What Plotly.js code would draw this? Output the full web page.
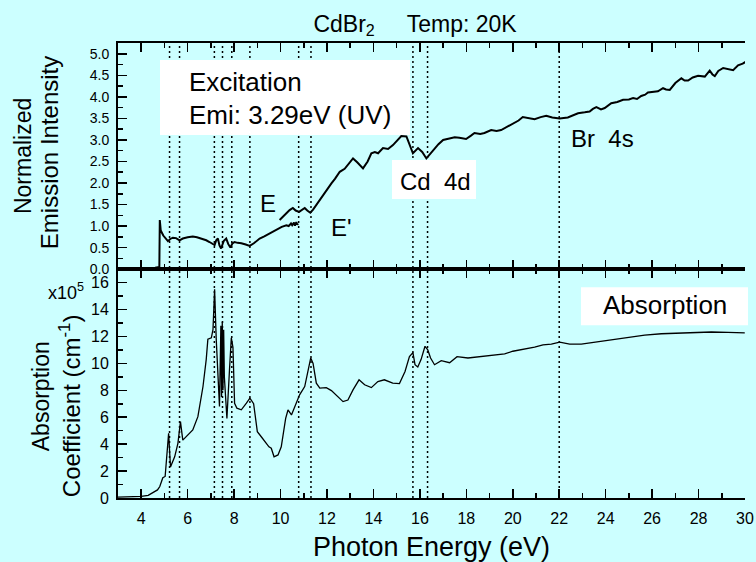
<!DOCTYPE html>
<html>
<head>
<meta charset="utf-8">
<script src="https://cdn.plot.ly/plotly-3.0.1.min.js"></script>
<style>html,body{margin:0;padding:0;background:#ccffff;}</style>
</head>
<body>
<div id="chart" style="width:756px;height:562px;"></div>
<script>
// Emission excitation spectrum (Emi: 3.29 eV), low-energy segment
const emisLowE = [3.9,4.3,4.6,4.78,4.8,4.84,4.95,5.15,5.25,5.36,5.5,5.65,5.79,6.0,6.22,6.4,6.59,6.8,6.94,7.05,7.16,7.23,7.3,7.37,7.44,7.55,7.66,7.75,7.84,7.93,8.02,8.15,8.31,8.5,8.67,8.85,9.1,9.3,9.53,9.7,9.89,10.05,10.25,10.35,10.45,10.5,10.58,10.62,10.68,10.72,10.75];
const emisLowI = [0.02,0.02,0.03,0.05,1.14,0.9,0.78,0.65,0.7,0.73,0.72,0.67,0.71,0.74,0.76,0.74,0.71,0.67,0.63,0.6,0.56,0.67,0.71,0.55,0.48,0.65,0.71,0.58,0.5,0.6,0.63,0.61,0.6,0.57,0.54,0.6,0.71,0.76,0.83,0.88,0.95,0.98,1.02,1.0,1.06,1.02,1.08,1.01,1.09,1.03,1.06];
// Emission excitation spectrum, high-energy segment
const emisHighE = [9.96,10.1,10.25,10.39,10.53,10.65,10.8,10.92,11.04,11.15,11.28,11.4,11.54,11.69,11.83,12.0,12.19,12.35,12.55,12.76,12.95,13.12,13.3,13.55,13.75,13.91,14.06,14.2,14.41,14.63,14.84,15.0,15.2,15.42,15.55,15.7,15.92,16.1,16.28,16.57,16.8,17.0,17.29,17.5,17.7,17.99,18.2,18.35,18.6,18.78,19.07,19.3,19.5,19.75,20.0,20.25,20.43,20.7,20.94,21.2,21.44,21.7,22.02,22.37,22.6,22.81,23.1,23.31,23.45,23.6,23.8,23.96,24.24,24.5,24.75,25.0,25.18,25.35,25.53,25.7,25.82,26.05,26.25,26.47,26.6,26.76,27.0,27.26,27.4,27.55,27.75,27.98,28.15,28.27,28.48,28.6,28.7,28.85,29.06,29.25,29.49,29.7,29.9,30.05];
const emisHighI = [1.14,1.22,1.29,1.37,1.42,1.36,1.33,1.38,1.42,1.36,1.31,1.38,1.49,1.62,1.72,1.85,1.99,2.1,2.26,2.33,2.45,2.57,2.48,2.34,2.5,2.69,2.72,2.69,2.81,2.79,2.88,2.98,3.09,3.08,2.9,2.69,2.81,2.72,2.57,2.76,2.9,3.0,3.03,3.06,3.05,3.02,3.1,3.16,3.14,3.16,3.23,3.21,3.23,3.3,3.39,3.45,3.53,3.5,3.48,3.53,3.56,3.52,3.5,3.52,3.58,3.62,3.64,3.66,3.72,3.76,3.71,3.74,3.85,3.88,3.93,3.94,3.97,3.95,4.02,4.05,4.1,4.12,4.13,4.2,4.17,4.16,4.32,4.43,4.38,4.38,4.45,4.49,4.48,4.47,4.61,4.52,4.48,4.6,4.67,4.64,4.62,4.73,4.77,4.82];
// Absorption coefficient (x10^5 cm^-1)
const absE = [3.0,3.5,4.0,4.3,4.5,4.7,4.8,4.93,5.03,5.1,5.18,5.26,5.44,5.58,5.69,5.79,6.01,6.22,6.44,6.66,6.8,6.87,7.02,7.09,7.16,7.23,7.37,7.43,7.46,7.49,7.52,7.55,7.58,7.69,7.8,7.88,7.95,8.02,8.12,8.31,8.53,8.68,8.84,9.0,9.17,9.39,9.5,9.6,9.72,9.89,10.03,10.22,10.32,10.47,10.64,10.82,11.04,11.18,11.3,11.4,11.54,11.69,11.97,12.19,12.4,12.69,12.9,13.12,13.38,13.62,13.91,14.19,14.47,14.83,15.12,15.36,15.55,15.7,15.79,15.91,16.05,16.22,16.34,16.46,16.63,16.92,17.28,17.6,18.07,18.93,19.65,20.0,20.51,20.94,21.3,21.66,22.02,22.45,22.95,23.53,24.24,24.96,25.68,26.4,27.12,27.84,28.55,29.27,29.99];
const absK = [0.07,0.08,0.12,0.2,0.37,0.6,0.85,1.5,1.6,3.0,4.8,2.3,3.06,4.06,5.67,4.3,4.68,5.05,6.04,8.28,10.3,11.8,11.9,12.5,15.5,11.8,6.8,12.8,7.5,13.1,8.0,12.5,9.0,5.9,9.5,11.9,11.2,7.04,6.67,6.55,7.04,7.42,7.0,4.93,4.55,4.06,3.8,3.7,3.06,3.2,3.8,5.92,6.54,6.17,6.92,7.66,8.28,9.53,10.4,10.0,8.53,8.16,8.2,7.98,7.66,7.16,7.28,8.03,8.78,8.41,8.2,8.65,8.78,8.53,8.5,9.4,10.5,10.8,9.9,9.73,10.28,11.27,11.0,10.4,9.9,10.2,10.05,10.5,10.4,10.55,10.7,10.9,11.07,11.2,11.38,11.43,11.57,11.43,11.43,11.57,11.77,11.94,12.1,12.2,12.26,12.3,12.33,12.3,12.26];
// Transition energies marked by dotted lines (eV)
const transitionE = [5.22,5.65,7.15,7.5,7.9,8.68,10.78,11.31,15.7,16.33,22.0];
// Texts
const xTitle = 'Photon Energy (eV)';
const chartTitle = 'CdBr<sub>2</sub>\u00a0\u00a0\u00a0\u00a0\u00a0Temp: 20K';

const FONT = 'Liberation Sans, Arial, sans-serif';

const traces = [
  {x: emisLowE, y: emisLowI, xaxis: 'x2', yaxis: 'y2', mode: 'lines', line: {color: '#000', width: 2}, hoverinfo: 'skip'},
  {x: emisHighE, y: emisHighI, xaxis: 'x2', yaxis: 'y2', mode: 'lines', line: {color: '#000', width: 2}, hoverinfo: 'skip'},
  {x: absE, y: absK, xaxis: 'x', yaxis: 'y', mode: 'lines', line: {color: '#000', width: 1.3}, hoverinfo: 'skip'}
];

const shapes = transitionE.map(e => ({
  type: 'line', xref: 'x', yref: 'paper', x0: e, x1: e, y0: 0, y1: 1,
  line: {color: '#000', width: 1.5, dash: '2px,3px'}, layer: 'below'
}));
function whiteBox(x0, x1, y0, y1) {
  return {type: 'rect', xref: 'paper', yref: 'paper', x0: x0, x1: x1, y0: y0, y1: y1,
    fillcolor: '#ffffff', line: {width: 0}, layer: 'below'};
}
shapes.push(whiteBox(0.067, 0.4657, 0.7977, 0.9626));
shapes.push(whiteBox(0.437, 0.571, 0.657, 0.7427));
shapes.push(whiteBox(0.7384, 1.0048, 0.3798, 0.4634));

function ann(text, x, y, size, opts) {
  return Object.assign({text: text, xref: 'paper', yref: 'paper', x: x, y: y,
    showarrow: false, xanchor: 'center', yanchor: 'middle',
    font: {family: FONT, size: size, color: '#000'}}, opts || {});
}
const annotations = [
  ann('Excitation', 0.110, 0.914, 26, {xanchor: 'left'}),
  ann('Emi: 3.29eV (UV)', 0.110, 0.842, 26, {xanchor: 'left'}),
  ann('Cd\u00a0 4d', 0.5056, 0.696, 24),
  ann('Br\u00a0 4s', 0.7735, 0.791, 24),
  ann('E', 0.239, 0.648, 24),
  ann("E'", 0.3557, 0.5953, 24),
  ann('Absorption', 0.8724, 0.4238, 26),
  ann('x10<sup>5</sup>', -0.0829, 0.4546, 18),
  ann('Normalized', -0.1515, 0.7515, 23, {textangle: -90}),
  ann('Emission Intensity', -0.110, 0.758, 24, {textangle: -90}),
  ann('Absorption', -0.1228, 0.2237, 23, {textangle: -90}),
  ann('Coefficient (cm<sup>-1</sup>)', -0.0766, 0.204, 24, {textangle: -90})
];

const xCommon = {
  range: [3, 30], tick0: 0, dtick: 2, ticks: 'inside', ticklen: 9, tickwidth: 1.5, tickcolor: '#000',
  showline: true, linewidth: 2, linecolor: '#000', mirror: 'allticks',
  minor: {dtick: 1, ticks: 'inside', ticklen: 5, tickwidth: 1.5, tickcolor: '#000'},
  showgrid: false, zeroline: false
};
const yCommon = {
  ticks: 'inside', ticklen: 9, tickwidth: 1.5, tickcolor: '#000',
  showline: true, linewidth: 2, linecolor: '#000', mirror: false,
  showgrid: false, zeroline: false, ticklabelstandoff: 4
};

const layout = {
  width: 756, height: 562,
  margin: {l: 118, r: 11, t: 43, b: 64, pad: 0},
  paper_bgcolor: '#ccffff', plot_bgcolor: '#ccffff',
  showlegend: false,
  font: {family: FONT, color: '#000'},
  title: {text: chartTitle, x: 0.549, xref: 'container', y: 0.958, yref: 'container', xanchor: 'center', yanchor: 'middle',
    font: {family: FONT, size: 23, color: '#000'}},
  xaxis: Object.assign({}, xCommon, {domain: [0, 1], anchor: 'y',
    tickfont: {family: FONT, size: 16, color: '#000'}, ticklabelstandoff: 5,
    title: {text: xTitle, font: {family: FONT, size: 27, color: '#000'}, standoff: 12}}),
  xaxis2: Object.assign({}, xCommon, {domain: [0, 1], anchor: 'y2', matches: 'x', showticklabels: false}),
  yaxis: Object.assign({}, yCommon, {domain: [0, 0.503], anchor: 'x', range: [0, 17], tick0: 0, dtick: 2,
    minor: {dtick: 1, ticks: 'inside', ticklen: 5, tickwidth: 1.5, tickcolor: '#000'},
    tickfont: {family: FONT, size: 16, color: '#000'}}),
  yaxis2: Object.assign({}, yCommon, {domain: [0.503, 1], anchor: 'x2', range: [0, 5.25], tick0: 0, dtick: 0.5, tickformat: '.1f',
    minor: {dtick: 0.25, ticks: 'inside', ticklen: 5, tickwidth: 1.5, tickcolor: '#000'},
    tickfont: {family: FONT, size: 14, color: '#000'}}),
  shapes: shapes,
  annotations: annotations
};

Plotly.newPlot('chart', traces, layout, {staticPlot: true, displayModeBar: false});
</script>
</body>
</html>
